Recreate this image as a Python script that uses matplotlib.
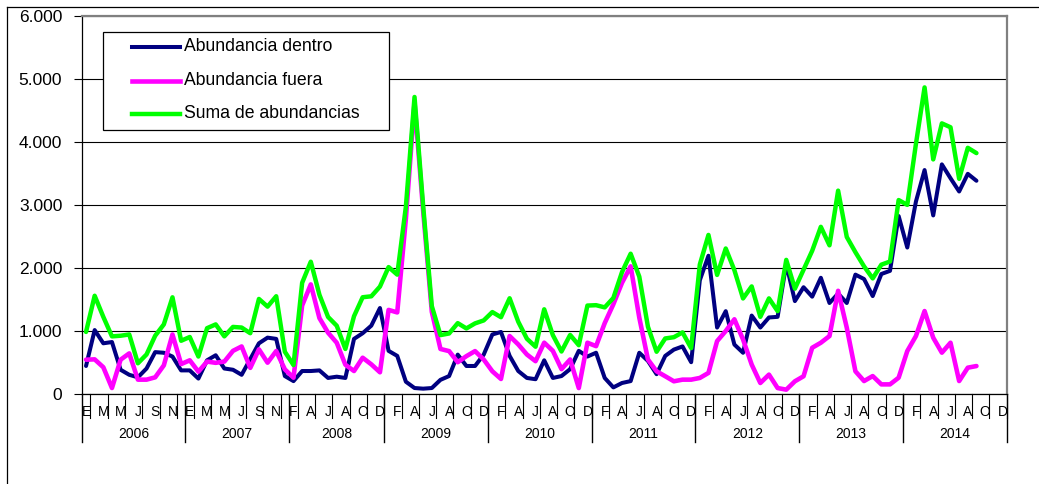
import matplotlib
matplotlib.use("Agg")
import matplotlib.pyplot as plt
from matplotlib.lines import Line2D
from matplotlib.patches import Rectangle
import matplotlib.transforms as mtransforms

plt.rcParams['font.family'] = ['Liberation Sans', 'DejaVu Sans']

# ---------------- data ----------------
years = ['2006', '2007', '2008', '2009', '2010', '2011', '2012', '2013', '2014']
year_first_month = [1, 1, 2, 1, 1, 1, 1, 1, 1]   # 2008 series starts in February
month_initials = ['E', 'F', 'M', 'A', 'M', 'J', 'J', 'A', 'S', 'O', 'N', 'D']

dentro = [
    440, 1010, 800, 820, 380, 300, 260, 400, 660, 650, 590, 370,          # 2006
    370, 240, 530, 610, 400, 380, 300, 550, 800, 890, 870, 280,           # 2007
    200, 360, 360, 370, 250, 270, 250, 870, 960, 1080, 1360,              # 2008 (F-D)
    680, 600, 190, 90, 80, 90, 220, 280, 620, 440, 440, 620,              # 2009
    940, 980, 600, 360, 250, 230, 530, 250, 280, 390, 680, 590,           # 2010
    650, 250, 100, 170, 200, 650, 520, 310, 600, 700, 750, 500,           # 2011
    1800, 2190, 1050, 1310, 780, 650, 1240, 1050, 1210, 1220, 2060, 1470, # 2012
    1690, 1540, 1840, 1440, 1590, 1440, 1890, 1820, 1550, 1900, 1950, 2820,  # 2013
    2320, 3050, 3550, 2830, 3640, 3420, 3210, 3490, 3380,                 # 2014
]
fuera = [
    540, 545, 420, 90, 540, 640, 223, 223, 260, 450, 940, 470,
    530, 350, 510, 490, 510, 680, 750, 410, 704, 492, 677, 386,
    254, 1400, 1735, 1200, 968, 809, 460, 360, 571, 466, 340,
    1330, 1290, 2780, 4620, 2900, 1300, 710, 676, 500, 596, 676, 543,
    356, 234, 915, 782, 622, 516, 810, 680, 390, 543, 90, 809,
    755, 1120, 1420, 1760, 2022, 1208, 543, 356, 277, 197, 223, 223,
    250, 330, 835, 995, 1181, 862, 463, 170, 303, 90, 64, 197,
    277, 729, 809, 915, 1633, 1048, 356, 201, 280, 148, 148, 254,
    677, 915, 1312, 889, 651, 809, 201, 413, 439,
]
suma = [
    980, 1555, 1220, 910, 920, 940, 483, 623, 920, 1100, 1530, 840,
    900, 590, 1040, 1100, 910, 1060, 1050, 960, 1504, 1382, 1547, 666,
    454, 1760, 2095, 1570, 1218, 1079, 710, 1230, 1531, 1546, 1700,
    2010, 1890, 2970, 4710, 2980, 1390, 930, 956, 1120, 1036, 1116, 1163,
    1296, 1214, 1515, 1142, 872, 746, 1340, 930, 670, 933, 770, 1399,
    1405, 1370, 1520, 1930, 2222, 1858, 1063, 666, 877, 897, 973, 723,
    2050, 2520, 1885, 2305, 1961, 1512, 1703, 1220, 1513, 1310, 2124, 1667,
    1967, 2269, 2649, 2355, 3223, 2488, 2246, 2021, 1830, 2048, 2098, 3074,
    2997, 3965, 4862, 3719, 4291, 4229, 3411, 3903, 3819,
]
series_names = ['Abundancia dentro', 'Abundancia fuera', 'Suma de abundancias']
series_colors = ['#000080', '#FF00FF', '#00FF00']

# category axis (one category per month)
cat_month = []
cat_year = []
for y, fm in zip(years, year_first_month):
    for m in range(fm, 13):
        cat_month.append(m)
        cat_year.append(y)
n_cat = len(cat_month)

# ---------------- figure ----------------
W, H = 1039, 484
fig = plt.figure(figsize=(W / 100, H / 100), dpi=100)
fig.patch.set_facecolor('white')

def fx(x):
    return x / W

def fy(y):
    return 1 - y / H

ax_left, ax_right, ax_top, ax_bot = 81.7, 1006.7, 15.7, 393.7
ax = fig.add_axes([fx(ax_left), fy(ax_bot), (ax_right - ax_left) / W, (ax_bot - ax_top) / H])
ax.set_xlim(-0.5, n_cat - 0.5)
ax.set_ylim(0, 6000)

yt = list(range(0, 6001, 1000))
ax.set_yticks(yt)
ax.set_yticklabels([f"{v:,}".replace(',', '.') for v in yt])
ax.tick_params(axis='y', direction='out', length=6, width=0.8, color='black',
               pad=8, labelsize=12.5)
ax.set_xticks([])
ax.set_axisbelow(True)
ax.yaxis.grid(True, color='black', linewidth=0.8)

for side in ['left', 'bottom']:
    ax.spines[side].set_color('black')
    ax.spines[side].set_linewidth(0.9)
for side in ['top', 'right']:
    ax.spines[side].set_color('#808080')
    ax.spines[side].set_linewidth(1.6)

xs = list(range(len(dentro)))
widths = [2.9, 3.3, 3.2]
for vals, col, lw in zip([dentro, fuera, suma], series_colors, widths):
    ax.plot(xs, vals, color=col, linewidth=lw, solid_joinstyle='round',
            solid_capstyle='round', zorder=3)

# ---------------- category axis decorations ----------------
trans = mtransforms.blended_transform_factory(ax.transData, ax.transAxes)
axh = ax_bot - ax_top

def ay(y_img):
    return (ax_bot - y_img) / axh

# month labels and ticks
for c in range(n_cat):
    if c % 2 == 0:
        ax.text(c, ay(411.5), month_initials[cat_month[c] - 1], transform=trans,
                ha='center', va='center', fontsize=10, clip_on=False)
        ax.plot([c + 0.5, c + 0.5], [ay(394), ay(418)], transform=trans,
                color='black', linewidth=0.8, clip_on=False)

# year boundaries and labels
start = 0
bounds = [-0.5]
for y in years:
    cnt = cat_year.count(y)
    mid = start + (cnt - 1) / 2
    ax.text(mid, ay(434), y, transform=trans, ha='center', va='center',
            fontsize=10, clip_on=False)
    start += cnt
    bounds.append(start - 0.5)
for b in bounds:
    ax.plot([b, b], [ay(394), ay(442)], transform=trans, color='black',
            linewidth=1.0, clip_on=False)

# ---------------- legend (drawn as a box) ----------------
lx0, lx1, ly0, ly1 = 103.3, 389.3, 31.7, 130.0
fig.add_artist(Rectangle((fx(lx0), fy(ly1)), (lx1 - lx0) / W, (ly1 - ly0) / H,
                         transform=fig.transFigure, facecolor='white',
                         edgecolor='black', linewidth=0.9, zorder=10))
for row_y, name, col, lw in zip([46.7, 80.5, 114.0], series_names, series_colors, widths):
    fig.add_artist(Line2D([fx(132), fx(180)], [fy(row_y), fy(row_y)],
                          transform=fig.transFigure, color=col, linewidth=lw, zorder=11))
    fig.text(fx(184), fy(row_y), name, ha='left', va='center', fontsize=12.7,
             zorder=12)

# ---------------- outer chart frame ----------------
fig.add_artist(Line2D([fx(7), 1.0], [fy(6.5), fy(6.5)], transform=fig.transFigure,
                      color='black', linewidth=0.9))
fig.add_artist(Line2D([fx(7), fx(7)], [fy(6.5), 0.0], transform=fig.transFigure,
                      color='black', linewidth=0.9))

fig.savefig('out.png', dpi=100, facecolor='white')
